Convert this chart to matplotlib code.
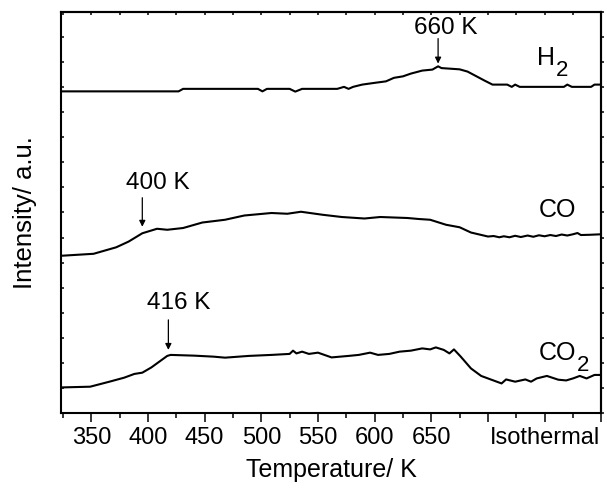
import matplotlib
matplotlib.use("Agg")
import matplotlib.pyplot as plt
import numpy as np

plt.rcParams['font.family'] = ['Liberation Sans', 'DejaVu Sans']
plt.rcParams['mathtext.default'] = 'regular'

# ---- data ----
H2_T = [323, 427, 431, 497, 501, 505, 525, 530, 536, 567, 573, 577, 581, 589, 600, 610, 617, 625, 632, 642,
        651, 656, 659, 675, 682, 697, 704, 717, 721, 724, 728, 767, 770, 774, 791, 794, 800]
H2_I = [12.84, 12.84, 12.94, 12.94, 12.84, 12.94, 12.94, 12.83, 12.94, 12.94, 13.02, 12.94, 13.02, 13.11, 13.18,
        13.24, 13.38, 13.44, 13.55, 13.67, 13.71, 13.84, 13.77, 13.72, 13.63, 13.27, 13.11, 13.11, 13.02, 13.11,
        13.02, 13.02, 13.11, 13.02, 13.02, 13.11, 13.11]

CO_T = [323, 352, 372, 383, 395, 408, 417, 431, 448, 468, 485, 509, 523, 535, 554, 571, 591, 605, 629, 639,
        649, 663, 675, 685, 700, 705, 710, 714, 719, 724, 729, 735, 740, 745, 750, 755, 760, 765, 770, 775,
        779, 782, 790, 800]
CO_I = [6.27, 6.35, 6.61, 6.84, 7.17, 7.35, 7.31, 7.38, 7.60, 7.71, 7.88, 7.98, 7.95, 8.03, 7.91, 7.82, 7.76,
        7.82, 7.78, 7.74, 7.71, 7.51, 7.41, 7.20, 7.04, 7.06, 7.01, 7.05, 7.01, 7.07, 7.02, 7.08, 7.03, 7.09,
        7.05, 7.10, 7.06, 7.12, 7.08, 7.13, 7.18, 7.10, 7.11, 7.13]

CO2_T = [323, 349, 366, 379, 388, 395, 403, 410, 417, 420, 441, 458, 468, 489, 509, 525, 528, 531, 536, 542,
         550, 562, 577, 586, 596, 603, 613, 622, 632, 642, 649, 654, 661, 666, 670, 676, 685, 694, 700, 712,
         716, 724, 733, 738, 743, 752, 762, 769, 775, 781, 787, 794, 800]
CO2_I = [1.01, 1.04, 1.24, 1.40, 1.55, 1.60, 1.81, 2.04, 2.27, 2.31, 2.28, 2.24, 2.20, 2.27, 2.31, 2.35, 2.48,
         2.37, 2.44, 2.35, 2.40, 2.21, 2.27, 2.31, 2.40, 2.31, 2.35, 2.44, 2.48, 2.57, 2.53, 2.61, 2.51, 2.37,
         2.53, 2.24, 1.77, 1.47, 1.37, 1.17, 1.33, 1.24, 1.33, 1.24, 1.37, 1.47, 1.32, 1.29, 1.37, 1.47, 1.37,
         1.51, 1.51]

x_ticks = [350, 400, 450, 500, 550, 600, 650, 700, 750, 800]
x_ticklabels = ['350', '400', '450', '500', '550', '600', '650', '', 'Isothermal', '']

series_names = ['H', 'CO', 'CO']
series_subs = ['2', '', '2']
peak_labels = ['660 K', '400 K', '416 K']
peak_T = [656, 395, 418]

# ---- figure ----
fig = plt.figure(figsize=(6.07, 4.99), dpi=100)
ax = fig.add_axes([0.1, 0.1729, 0.8906, 0.8025])

for T, I in [(H2_T, H2_I), (CO_T, CO_I), (CO2_T, CO2_I)]:
    ax.plot(T, I, color='black', lw=1.5)

ax.set_xlim(323, 800)
ax.set_ylim(0, 16)

ax.set_xticks(x_ticks)
ax.set_xticklabels(x_ticklabels)
ax.set_xticks(np.arange(325, 801, 25), minor=True)
ax.tick_params(axis='x', which='major', direction='out', length=6.5, width=1.1, labelsize=17, pad=4, top=False)
ax.tick_params(axis='x', which='minor', direction='out', length=3.5, width=1.1, top=False)

ax.set_yticks(np.arange(0, 17, 1))
ax.tick_params(axis='y', which='major', direction='in', length=2.5, width=1.1, labelleft=False, right=False)

secy = ax.secondary_yaxis('right')
secy.set_yticks(np.arange(0, 17, 1))
secy.tick_params(direction='out', length=2.5, width=1.1, labelright=False)
secy.spines['right'].set_linewidth(1.5)

secx = ax.secondary_xaxis('top')
secx.set_xticks(np.arange(325, 801, 25))
secx.tick_params(direction='in', length=2.5, width=1.1, labeltop=False)
secx.spines['top'].set_linewidth(1.5)

for s in ax.spines.values():
    s.set_linewidth(1.5)

ax.set_xlabel('Temperature/ K', fontsize=18, labelpad=6)
ax.set_ylabel('Intensity/ a.u.', fontsize=18.5, labelpad=17)

# peak annotations
ann = [(15.39, 14.95, 13.95, 663), (9.19, 8.59, 7.43, 409), (4.37, 3.71, 2.51, 427)]
for lab, pt, (ty, a0, a1, tx) in zip(peak_labels, peak_T, ann):
    ax.text(tx, ty, lab, fontsize=17.5, ha='center', va='center')
    ax.annotate('', xy=(pt, a1), xytext=(pt, a0),
                arrowprops=dict(arrowstyle='-|>', lw=0.9, color='black', mutation_scale=9, shrinkA=0, shrinkB=0))

# series labels with enlarged subscripts
label_pos = [(743, 13.91), (745, 7.83), (745, 2.11)]
fig.canvas.draw()
renderer = fig.canvas.get_renderer()
inv = ax.transData.inverted()
for name, sub, (lx, ly) in zip(series_names, series_subs, label_pos):
    t = ax.text(lx, ly, name, fontsize=18, ha='left', va='baseline')
    if sub:
        bb = t.get_window_extent(renderer=renderer)
        xr, _ = inv.transform((bb.x1, bb.y0))
        ax.annotate(sub, xy=(xr, ly), xytext=(0.5, -8), textcoords='offset points',
                    fontsize=16, ha='left', va='baseline')

fig.savefig('out.png', dpi=100)
